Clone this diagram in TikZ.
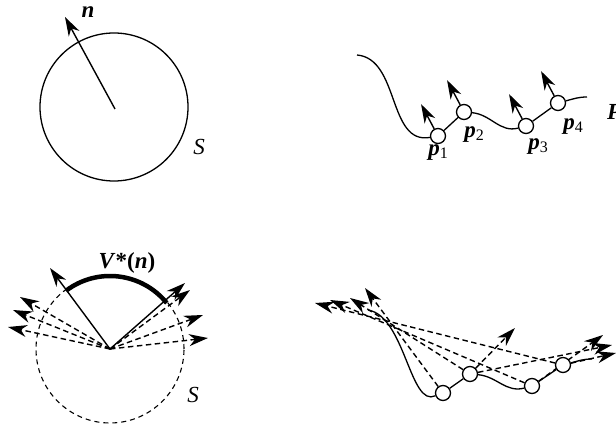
\documentclass[tikz,border=0pt]{standalone}
\usepackage{fontspec}
\setmainfont{Liberation Serif}
\usetikzlibrary{arrows.meta,backgrounds}
\begin{document}
\begin{tikzpicture}[x=1pt,y=1pt,
  vec/.style={line width=1.4pt,-{Stealth[length=19pt,width=12pt,inset=6pt]}},
  dvec/.style={vec,dash pattern=on 5.5pt off 3.5pt},
  curve/.style={line width=1.3pt},
  ptc/.style={circle,draw,line width=1.3pt,minimum size=15pt,inner sep=0pt,fill=white},
  lbl/.style={font=\fontsize{23}{27}\selectfont,inner sep=0pt}
]
\newcommand{\bp}[1]{\textbf{\textit{p}}\raisebox{-3pt}{\fontsize{16}{16}\selectfont #1}}
\useasboundingbox (0,0) rectangle (616,428);

% ---------- panel 1
\node[circle,draw,line width=1.3pt,minimum size=148pt,inner sep=0pt] (S1) at (114,321) {};
\coordinate (c1) at (115,319);
\coordinate (n1) at (65,411);
\draw[vec] (c1) -- (n1);
\node[lbl,anchor=base] (nlab) at (88,410) {\textbf{\textit{n}}};
\node[lbl,anchor=base] (slab1) at (199,273) {\textit{S}};

% ---------- panel 2
\node[ptc] (a1) at (438,292) {};
\node[ptc] (a2) at (464,316) {};
\node[ptc] (a3) at (526,302) {};
\node[ptc] (a4) at (558,325) {};
\coordinate (s2) at (357,373);
\coordinate (e2) at (587,331);
\begin{pgfonlayer}{background}
\draw[curve] (s2) to[out=-5,in=190] (a1);
\draw[curve] (a1) -- (a2);
\draw[curve] (a2) to[out=-5,in=195] (a3);
\draw[curve] (a3) -- (a4);
\draw[curve] (a4) to[out=15,in=180] (e2);
\end{pgfonlayer}
\draw[vec] (a1.118) -- ++(118:28);
\draw[vec] (a2.118) -- ++(118:28);
\draw[vec] (a3.118) -- ++(118:28);
\draw[vec] (a4.118) -- ++(118:28);
\node[lbl,anchor=base] (l1) at (438,272) {\bp{1}};
\node[lbl,anchor=base] (l2) at (474,290) {\bp{2}};
\node[lbl,anchor=base] (l3) at (538,278) {\bp{3}};
\node[lbl,anchor=base] (l4) at (573,298) {\bp{4}};
\node[lbl,anchor=base west] (lP) at (607,308) {\textbf{\textit{P}}};

% ---------- panel 3
\coordinate (O) at (110,79);
\node[circle,draw,line width=1.1pt,dash pattern=on 5pt off 4pt,minimum size=148pt,inner sep=0pt] (S3) at (O) {};
\draw[line width=4.5pt] (O) ++(39:73) arc[start angle=39,end angle=127,radius=73pt];
\coordinate (t1) at (50,160);
\coordinate (t2) at (185,145);
\draw[vec] (O) -- (t1);
\draw[vec] (O) -- (t2);
\coordinate (d1) at (20,131);
\coordinate (d2) at (13,118);
\coordinate (d3) at (8,101);
\coordinate (d4) at (190,138);
\coordinate (d5) at (203,113);
\coordinate (d6) at (208,90);
\foreach \d in {d1,d2,d3,d4,d5,d6} \draw[dvec] (O) -- (\d);
\node[lbl,anchor=base] (vlab) at (127,159) {\textbf{\textit{V}*(\textit{n})}};
\node[lbl,anchor=base] (slab3) at (193,25) {\textit{S}};

% ---------- panel 4
\node[ptc] (q1) at (443,35) {};
\node[ptc] (q2) at (470,54) {};
\node[ptc] (q3) at (532,42) {};
\node[ptc] (q4) at (563,63) {};
\coordinate (s4) at (368,118);
\coordinate (e4) at (592,69);
\coordinate (k1) at (365,140);
\coordinate (k2) at (350,130);
\coordinate (k3) at (330,128);
\coordinate (k4) at (315,125);
\coordinate (k5) at (515,100);
\coordinate (k6) at (603,93);
\coordinate (k7) at (612,83);
\coordinate (k8) at (616,75);
\begin{pgfonlayer}{background}
\draw[curve] (s4) .. controls (405,112) and (410,20) .. (q1.200);
\draw[curve] (q1) -- (q2);
\draw[curve] (q2) to[out=-5,in=195] (q3);
\draw[curve] (q3) -- (q4);
\draw[curve] (q4) to[out=15,in=180] (e4);
\draw[dvec] (q1) -- (k1);
\draw[dvec] (q2) -- (k2);
\draw[dvec] (q3) -- (k3);
\draw[dvec] (q4) -- (k4);
\draw[dvec] (q2) -- (k5);
\draw[dvec] (q3) -- (k6);
\draw[dvec] (q2) -- (k7);
\draw[dvec] (q4) -- (k8);
\end{pgfonlayer}
\end{tikzpicture}
\end{document}
